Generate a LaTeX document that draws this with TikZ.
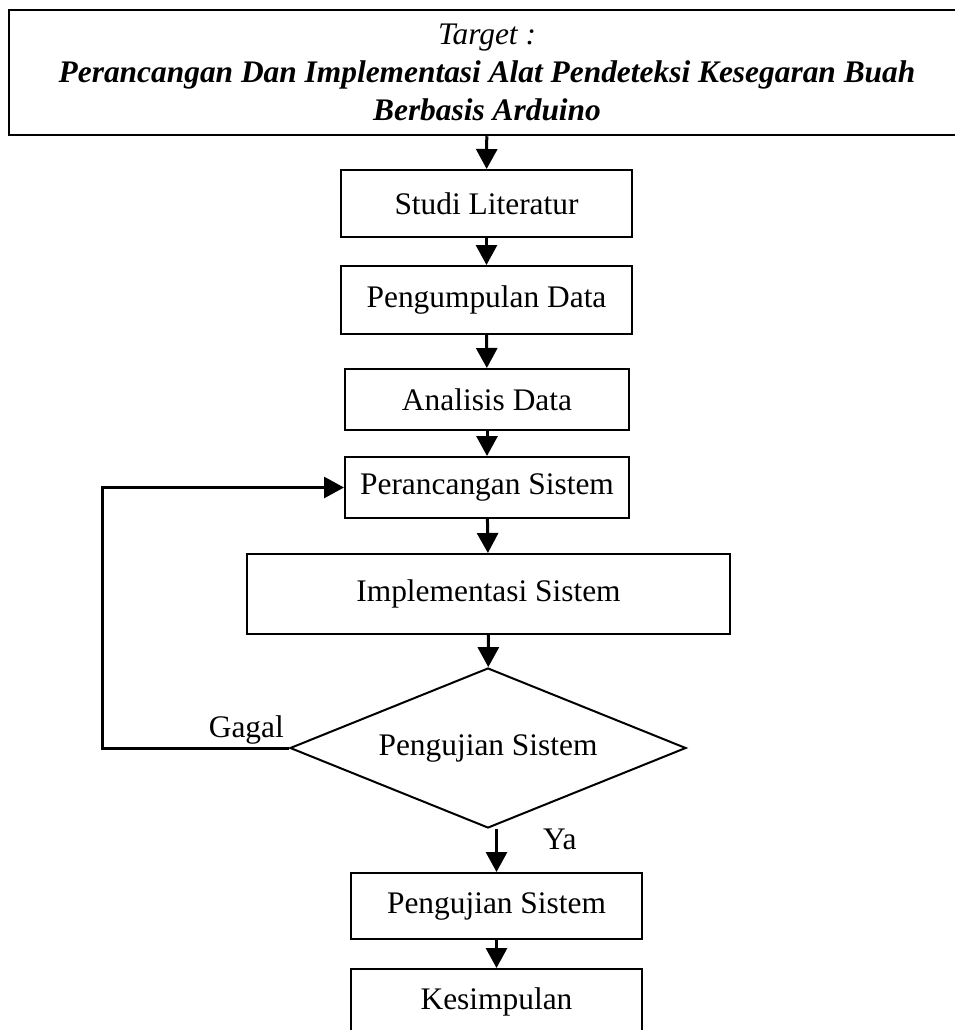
\documentclass[tikz,border=0pt]{standalone}
\usepackage{fontspec}
\setmainfont{Liberation Serif}
\usetikzlibrary{arrows.meta,shapes.geometric}
\tikzstyle{box}=[draw,rectangle,line width=2pt,inner sep=0pt,font=\fontsize{31.4}{38}\selectfont]
\tikzstyle{decision}=[box,diamond,aspect=2.5]
\tikzstyle{tag}=[inner sep=0pt,font=\fontsize{31.4}{38}\selectfont]
\tikzstyle{flow}=[draw,line width=3pt,-{Triangle[length=20pt,width=21pt]}]

\begin{document}
\begin{tikzpicture}[x=1pt,y=-1pt]
    \useasboundingbox (0,0) rectangle (955,1030);
    % Title box, its right side runs off the page
    \node[box,line width=2.5pt,minimum width=956,minimum height=125,align=center] (target) at (487,72.5)
        {\textit{Target :}\\ \textbf{\textit{Perancangan Dan Implementasi Alat Pendeteksi Kesegaran Buah}}\\ \textbf{\textit{Berbasis Arduino}}};

    % The process boxes
    \foreach \pos/\name/\bw/\bh/\txt in {{(486.5,203.5)/studi/291/67/Studi Literatur}, {(486.5,300)/kumpul/291/68/Pengumpulan Data}, {(487,399.5)/analisis/284/61/Analisis Data}, {(487,487.5)/rancang/284/61/Perancangan Sistem}, {(488.5,594)/impl/483/80/Implementasi Sistem}, {(496.5,906)/hasil/291/66/Pengujian Sistem}, {(496.5,1002)/simpul/291/66/Kesimpulan}}
        \node[box,minimum width=\bw,minimum height=\bh] (\name) at \pos {\txt};

    \node[decision,minimum width=396,minimum height=160] (uji) at (488,748) {Pengujian Sistem};
    \node[tag,anchor=base east] (gagal) at (284,737) {Gagal};
    \node[tag,anchor=base west] (ya) at (543,849) {Ya};

    % Connect the boxes
    \foreach \source/\dest in {target/studi, studi/kumpul, kumpul/analisis, analisis/rancang, rancang/impl, impl/uji, hasil/simpul}
        \path[flow] (\source) -- (\dest);
    \path[flow] (uji.south -| hasil) -- (hasil);

    % Back to the design step when the test fails
    \coordinate (balik) at (102,748);
    \path[flow] (uji.west) -- (balik) |- (rancang.west);
\end{tikzpicture}
\end{document}
